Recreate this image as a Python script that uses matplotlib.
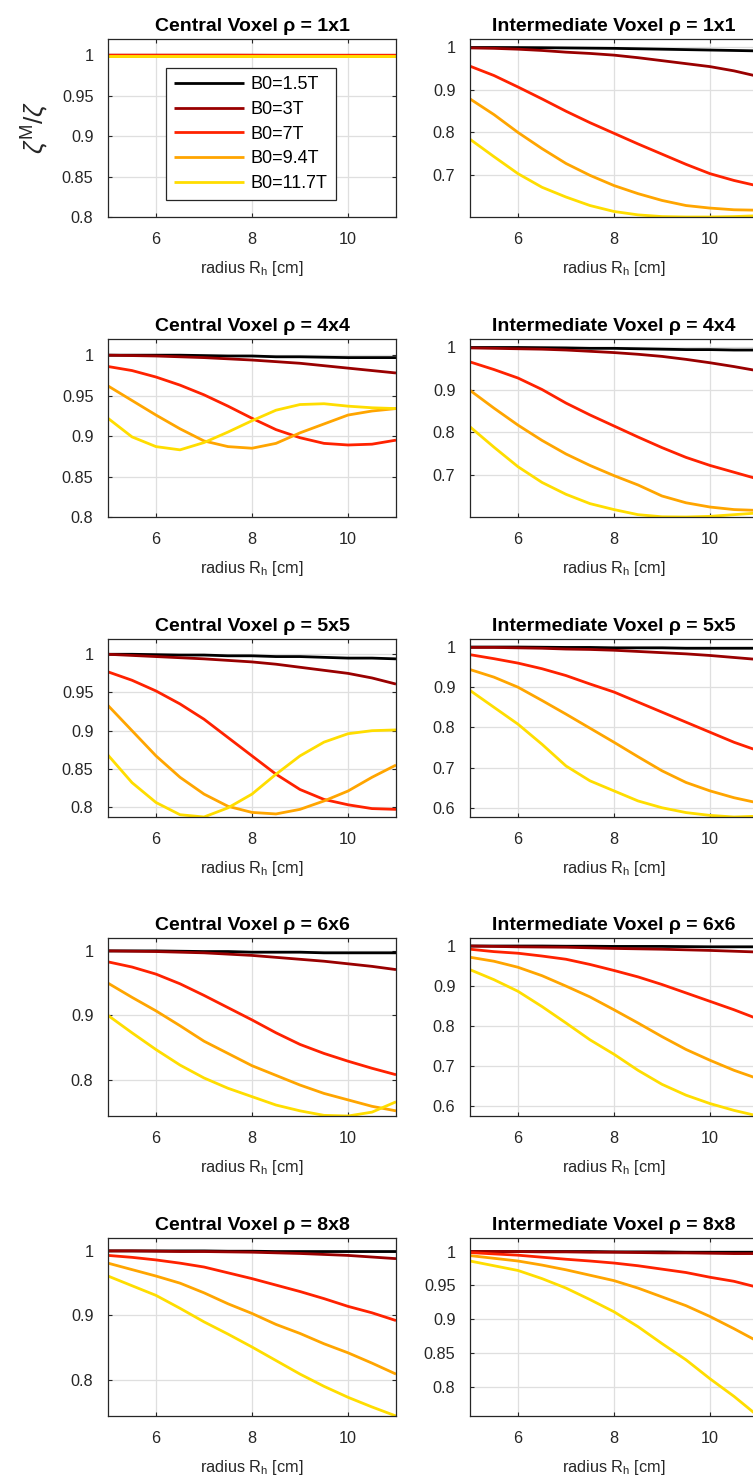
import numpy as np
import matplotlib
matplotlib.use('Agg')
import matplotlib.pyplot as plt
from matplotlib.ticker import MultipleLocator, FuncFormatter

plt.rcParams['font.family'] = ['Liberation Sans', 'DejaVu Sans']
plt.rcParams['mathtext.fontset'] = 'custom'
plt.rcParams['mathtext.rm'] = 'Liberation Sans'
plt.rcParams['mathtext.it'] = 'Liberation Sans:italic'
plt.rcParams['mathtext.bf'] = 'Liberation Sans:bold'

# radius of the head [cm]
radius = [5, 5.5, 6, 6.5, 7, 7.5, 8, 8.5, 9, 9.5, 10, 10.5, 11]

field_labels = ['B0=1.5T', 'B0=3T', 'B0=7T', 'B0=9.4T', 'B0=11.7T']
sizes = ['1x1', '4x4', '5x5', '6x6', '8x8']

# rows: 1.5T, 3T, 7T, 9.4T, 11.7T
central_1x1 = [
    [1.0, 1.0, 1.0, 1.0, 1.0, 1.0, 1.0, 1.0, 1.0, 1.0, 1.0, 1.0, 1.0],
    [1.0, 1.0, 1.0, 1.0, 1.0, 1.0, 1.0, 0.9999, 0.9999, 0.9999, 0.9999, 0.9999, 0.9999],
    [0.9999, 0.9999, 0.9999, 0.9999, 0.9999, 0.9999, 0.9998, 0.9998, 0.9998, 0.9998, 0.9998, 0.9998, 0.9998],
    [0.9995, 0.9995, 0.9995, 0.9995, 0.9995, 0.9995, 0.9995, 0.9995, 0.9995, 0.9995, 0.9995, 0.9995, 0.9995],
    [0.9992, 0.9992, 0.9992, 0.9992, 0.9992, 0.9992, 0.9992, 0.9992, 0.9992, 0.9992, 0.9992, 0.9992, 0.9992],
]
inter_1x1 = [
    [1.0, 1.0, 0.9998, 0.9995, 0.999, 0.9985, 0.998, 0.997, 0.996, 0.995, 0.994, 0.993, 0.992],
    [0.999, 0.998, 0.996, 0.993, 0.989, 0.986, 0.982, 0.976, 0.969, 0.962, 0.955, 0.945, 0.932],
    [0.956, 0.934, 0.907, 0.879, 0.850, 0.823, 0.798, 0.773, 0.749, 0.725, 0.703, 0.687, 0.674],
    [0.879, 0.842, 0.800, 0.762, 0.727, 0.699, 0.675, 0.656, 0.640, 0.628, 0.622, 0.618, 0.617],
    [0.784, 0.743, 0.703, 0.671, 0.648, 0.628, 0.614, 0.606, 0.602, 0.601, 0.601, 0.602, 0.604],
]
central_4x4 = [
    [1.0, 1.0, 1.0, 1.0, 0.9995, 0.999, 0.999, 0.998, 0.998, 0.9975, 0.997, 0.997, 0.997],
    [1.0, 0.9995, 0.999, 0.998, 0.997, 0.9955, 0.994, 0.992, 0.990, 0.987, 0.984, 0.981, 0.978],
    [0.986, 0.981, 0.973, 0.963, 0.951, 0.937, 0.922, 0.908, 0.898, 0.891, 0.889, 0.890, 0.895],
    [0.962, 0.944, 0.926, 0.909, 0.894, 0.887, 0.885, 0.891, 0.904, 0.915, 0.926, 0.931, 0.934],
    [0.922, 0.899, 0.887, 0.883, 0.892, 0.905, 0.919, 0.932, 0.939, 0.940, 0.937, 0.935, 0.934],
]
inter_4x4 = [
    [1.0, 1.0, 1.0, 0.9995, 0.999, 0.998, 0.998, 0.997, 0.996, 0.995, 0.995, 0.994, 0.994],
    [0.999, 0.998, 0.997, 0.996, 0.994, 0.991, 0.988, 0.984, 0.979, 0.972, 0.964, 0.955, 0.945],
    [0.966, 0.948, 0.928, 0.901, 0.869, 0.841, 0.815, 0.789, 0.764, 0.741, 0.722, 0.706, 0.690],
    [0.899, 0.857, 0.817, 0.781, 0.749, 0.722, 0.698, 0.676, 0.650, 0.634, 0.624, 0.618, 0.616],
    [0.813, 0.765, 0.719, 0.682, 0.654, 0.632, 0.618, 0.606, 0.601, 0.6005, 0.602, 0.606, 0.610],
]
central_5x5 = [
    [1.0, 1.0, 0.9995, 0.999, 0.999, 0.998, 0.998, 0.997, 0.997, 0.996, 0.995, 0.995, 0.994],
    [1.0, 0.9985, 0.997, 0.9955, 0.994, 0.992, 0.990, 0.987, 0.983, 0.979, 0.975, 0.969, 0.961],
    [0.977, 0.966, 0.952, 0.935, 0.915, 0.891, 0.867, 0.843, 0.823, 0.810, 0.803, 0.798, 0.797],
    [0.933, 0.900, 0.867, 0.839, 0.817, 0.801, 0.793, 0.791, 0.797, 0.808, 0.821, 0.839, 0.855],
    [0.868, 0.832, 0.806, 0.790, 0.787, 0.799, 0.817, 0.843, 0.867, 0.885, 0.896, 0.900, 0.901],
]
inter_5x5 = [
    [1.0, 1.0, 1.0, 0.9995, 0.999, 0.999, 0.998, 0.998, 0.998, 0.997, 0.997, 0.997, 0.997],
    [0.999, 0.999, 0.998, 0.997, 0.995, 0.994, 0.992, 0.989, 0.986, 0.983, 0.979, 0.974, 0.969],
    [0.981, 0.971, 0.960, 0.946, 0.929, 0.908, 0.888, 0.863, 0.838, 0.813, 0.788, 0.763, 0.742],
    [0.944, 0.925, 0.900, 0.867, 0.833, 0.798, 0.763, 0.727, 0.692, 0.663, 0.642, 0.625, 0.612],
    [0.892, 0.850, 0.808, 0.758, 0.704, 0.667, 0.642, 0.617, 0.600, 0.588, 0.581, 0.577, 0.579],
]
central_6x6 = [
    [1.0, 1.0, 1.0, 0.9995, 0.999, 0.999, 0.998, 0.998, 0.998, 0.997, 0.997, 0.997, 0.997],
    [1.0, 0.9995, 0.999, 0.998, 0.997, 0.995, 0.993, 0.990, 0.987, 0.984, 0.980, 0.976, 0.971],
    [0.983, 0.975, 0.964, 0.949, 0.931, 0.912, 0.893, 0.873, 0.855, 0.841, 0.829, 0.818, 0.808],
    [0.950, 0.928, 0.907, 0.884, 0.860, 0.841, 0.822, 0.807, 0.792, 0.779, 0.769, 0.759, 0.752],
    [0.900, 0.873, 0.847, 0.823, 0.803, 0.787, 0.774, 0.761, 0.752, 0.745, 0.744, 0.750, 0.766],
]
inter_6x6 = [
    [1.0, 1.0, 1.0, 1.0, 0.9995, 0.9995, 0.999, 0.999, 0.999, 0.9985, 0.998, 0.998, 0.998],
    [1.0, 0.999, 0.998, 0.9975, 0.997, 0.9955, 0.994, 0.993, 0.992, 0.9905, 0.989, 0.987, 0.985],
    [0.992, 0.986, 0.982, 0.975, 0.967, 0.954, 0.939, 0.923, 0.904, 0.883, 0.862, 0.841, 0.818],
    [0.972, 0.962, 0.947, 0.926, 0.900, 0.873, 0.841, 0.808, 0.774, 0.742, 0.715, 0.690, 0.669],
    [0.941, 0.916, 0.887, 0.849, 0.808, 0.766, 0.730, 0.690, 0.655, 0.628, 0.607, 0.590, 0.576],
]
central_8x8 = [
    [1.0, 1.0, 1.0, 1.0, 1.0, 0.9995, 0.9995, 0.999, 0.999, 0.999, 0.999, 0.999, 0.999],
    [1.0, 1.0, 0.9995, 0.999, 0.999, 0.9985, 0.998, 0.997, 0.996, 0.9945, 0.993, 0.9905, 0.988],
    [0.993, 0.990, 0.986, 0.981, 0.975, 0.966, 0.957, 0.947, 0.937, 0.926, 0.914, 0.904, 0.892],
    [0.981, 0.971, 0.961, 0.950, 0.935, 0.918, 0.903, 0.886, 0.872, 0.856, 0.842, 0.826, 0.809],
    [0.961, 0.946, 0.931, 0.911, 0.890, 0.871, 0.851, 0.830, 0.809, 0.790, 0.773, 0.758, 0.744],
]
inter_8x8 = [
    [1.0, 1.0, 1.0, 1.0, 1.0, 1.0, 0.9995, 0.9995, 0.9995, 0.999, 0.999, 0.999, 0.999],
    [1.0, 1.0, 1.0, 0.9995, 0.9995, 0.999, 0.999, 0.9985, 0.998, 0.998, 0.9975, 0.997, 0.997],
    [0.9985, 0.9965, 0.9946, 0.9916, 0.9886, 0.986, 0.983, 0.979, 0.974, 0.969, 0.962, 0.956, 0.947],
    [0.994, 0.990, 0.986, 0.980, 0.973, 0.965, 0.957, 0.946, 0.933, 0.920, 0.904, 0.886, 0.867],
    [0.986, 0.979, 0.972, 0.960, 0.946, 0.929, 0.911, 0.889, 0.864, 0.840, 0.812, 0.786, 0.757],
]

central = [central_1x1, central_4x4, central_5x5, central_6x6, central_8x8]
inter = [inter_1x1, inter_4x4, inter_5x5, inter_6x6, inter_8x8]

colors = ['#000000', '#990000', '#ff2200', '#ffa500', '#ffdd00']
dark = '#262626'

# axis layout in pixels (right column runs off the edge like the original)
W, H = 753, 1481
tops = [39, 339, 639, 938, 1238]
lefts = [108, 470]
ax_w, ax_h = 288, 178
central_floor = [0.8, 0.8, None, None, None]
central_step = [0.05, 0.05, 0.05, 0.1, 0.1]
inter_step = [0.1, 0.1, 0.1, 0.1, 0.05]

fig = plt.figure(figsize=(W / 100, H / 100), dpi=100)
fmt = FuncFormatter(lambda v, p: f'{v:g}')

first_ax = None
for r in range(5):
    for c in range(2):
        data = central[r] if c == 0 else inter[r]
        ax = fig.add_axes([lefts[c] / W, 1 - (tops[r] + ax_h) / H, ax_w / W, ax_h / H])
        for k in range(5):
            ax.plot(radius, data[k], color=colors[k], lw=2, label=field_labels[k],
                    solid_capstyle='butt')
        ax.set_xlim(5, 11)
        if c == 0 and central_floor[r] is not None:
            lo = central_floor[r]
        else:
            lo = min(min(s) for s in data)
        ax.set_ylim(lo, 1.02)
        ax.xaxis.set_major_locator(MultipleLocator(2))
        step = central_step[r] if c == 0 else inter_step[r]
        ax.yaxis.set_major_locator(MultipleLocator(step))
        ax.yaxis.set_major_formatter(fmt)
        ax.grid(True, color='#dfdfdf', lw=0.9)
        ax.set_axisbelow(True)
        for sp in ax.spines.values():
            sp.set_color(dark)
            sp.set_linewidth(0.9)
        ax.tick_params(direction='in', top=True, right=True, length=3, width=0.8,
                       colors=dark, labelsize=11.7, pad=10.5)
        name = 'Central Voxel' if c == 0 else 'Intermediate Voxel'
        ax.set_title(name + ' ρ = ' + sizes[r], fontsize=14, fontweight='bold', pad=6)
        ax.set_xlabel(r'radius R$_\mathrm{h}$ [cm]', fontsize=11.7, color=dark, labelpad=9)
        if first_ax is None:
            first_ax = ax

first_ax.set_ylabel(r'$\zeta^\mathrm{M}/\zeta$', fontsize=19, color=dark, labelpad=8)
leg = first_ax.legend(loc='upper left', bbox_to_anchor=(166 / W, 1 - 68 / H),
                      bbox_transform=fig.transFigure, fontsize=13, handlelength=3.85,
                      handletextpad=0.4, labelspacing=0.43, borderpad=0.45,
                      borderaxespad=0, fancybox=False, framealpha=1, edgecolor=dark)
leg.get_frame().set_linewidth(0.9)

fig.savefig('out.png', dpi=100)
